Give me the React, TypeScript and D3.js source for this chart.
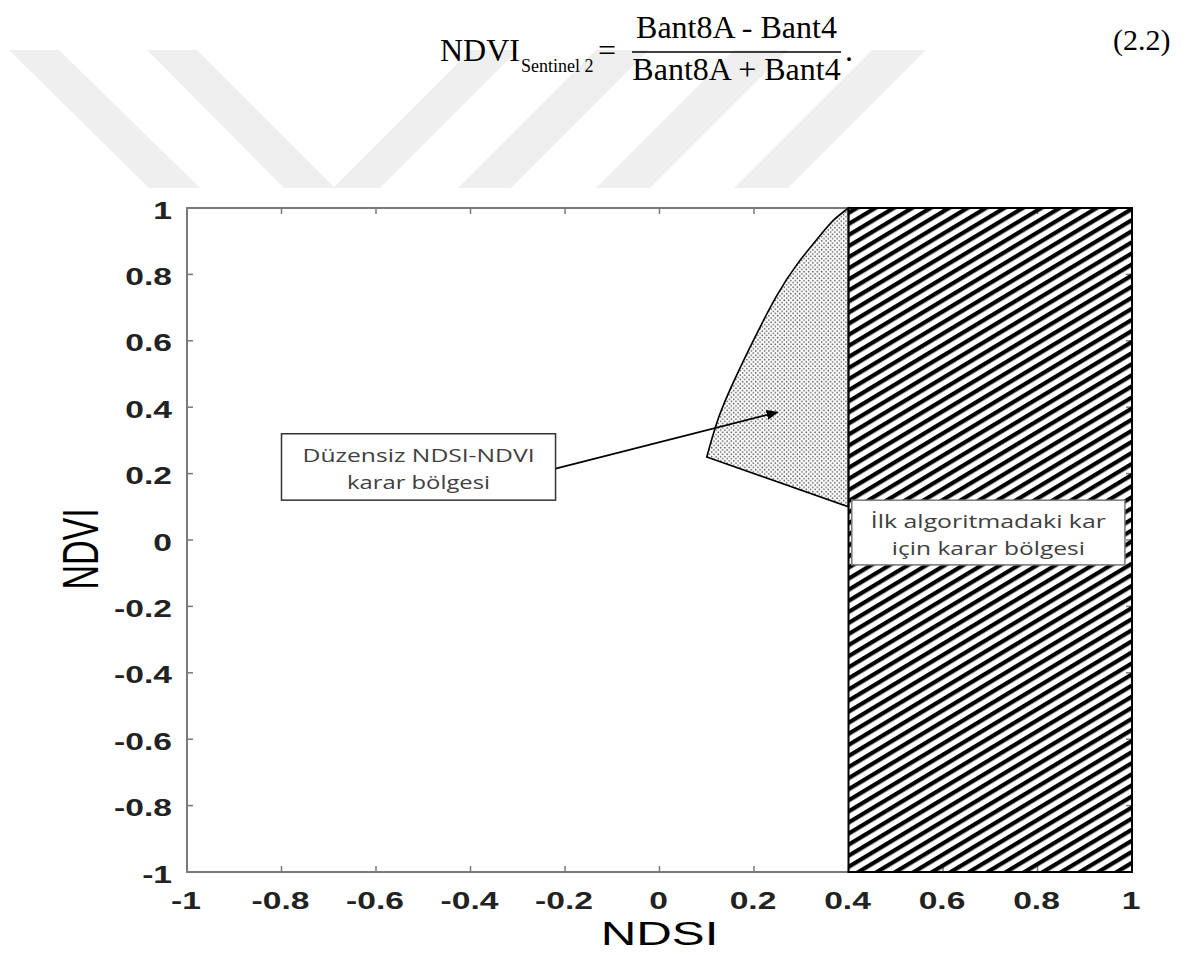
import * as d3 from 'd3';

// axis ticks
const xTicks = [-1, -0.8, -0.6, -0.4, -0.2, 0, 0.2, 0.4, 0.6, 0.8, 1];
const yTicks = [-1, -0.8, -0.6, -0.4, -0.2, 0, 0.2, 0.4, 0.6, 0.8, 1];

// irregular NDSI-NDVI region, curved upper edge
const curveNDSI = [0.1, 0.121, 0.149, 0.192, 0.247, 0.293, 0.338, 0.369, 0.4];
const curveNDVI = [0.25, 0.352, 0.452, 0.582, 0.733, 0.834, 0.914, 0.964, 1.0];
// straight lower edge
const lowerNDSI = [0.4, 0.1];
const lowerNDVI = [0.1, 0.25];

// first algorithm snow region
const snowNDSI = [0.4, 1];
const snowNDVI = [-1, 1];

// annotation boxes
const box1NDSI = [-0.8, -0.22];
const box1NDVI = [0.12, 0.32];
const box1Lines = ['Düzensiz NDSI-NDVI', 'karar bölgesi'];
const box1Widths = [232, 143];
const box2NDSI = [0.407, 0.985];
const box2NDVI = [-0.075, 0.12];
const box2Lines = ['İlk algoritmadaki kar', 'için karar bölgesi'];
const box2Widths = [235, 193];

// arrow from box 1 into the irregular region
const arrowNDSI = [-0.22, 0.25];
const arrowNDVI = [0.215, 0.385];

const W = 1189;
const H = 955;
const margin = { top: 208, right: 57, bottom: 83, left: 187 };

const fmt = (d: number) => (d === 0 ? '0' : String(d));

export default function App() {
  const x = d3.scaleLinear().domain([-1, 1]).range([margin.left, W - margin.right]);
  const y = d3.scaleLinear().domain([-1, 1]).range([H - margin.bottom, margin.top]);

  const curvePts: [number, number][] = curveNDSI.map((v, i) => [x(v), y(curveNDVI[i])]);
  const upper = d3.line().curve(d3.curveNatural)(curvePts) || '';
  const lowerPts = lowerNDSI.map((v, i) => `${x(v)},${y(lowerNDVI[i])}`).join(' L');
  const regionPath = `${upper} L${lowerPts} Z`;

  const tickLen = 6;
  const axisColor = '#7a7a7a';
  const sans = '"Liberation Sans", Arial, sans-serif';
  const serif = '"Liberation Serif", "Times New Roman", serif';
  const note = '"Open Sans", "Noto Sans", sans-serif';

  // background watermark bands (page decoration)
  const wm = [
    '9,50 59,50 200,188 149,188',
    '147,50 197,50 334,187 471,50 518,50 380,188 284,188',
    '458,188 511,188 649,50 596,50',
    '596,188 650,188 788,50 734,50',
    '734,188 788,188 926,50 872,50',
  ];

  return (
    <svg width={W} height={H} style={{ position: 'absolute', left: 0, top: 0, background: '#fff' }}>
      <defs>
        <pattern id="hatch" patternUnits="userSpaceOnUse" width={9.5} height={9.5} patternTransform="rotate(-31)">
          <rect x={0} y={0} width={9.5} height={4.2} fill="#000" />
        </pattern>
        <pattern id="dots" patternUnits="userSpaceOnUse" width={4.4} height={4.4}>
          <circle cx={1.1} cy={1.1} r={0.8} fill="#555" />
          <circle cx={3.3} cy={3.3} r={0.8} fill="#555" />
        </pattern>
        <marker id="arrow" viewBox="0 0 12 10" refX={11} refY={5} markerWidth={12} markerHeight={10} markerUnits="userSpaceOnUse" orient="auto">
          <path d="M0,0 L12,5 L0,10 Z" fill="#000" />
        </marker>
      </defs>

      {wm.map((p, i) => (
        <polygon key={i} points={p} fill="#efefef" />
      ))}

      {/* equation */}
      <g fontFamily={serif} fill="#000">
        <text x={440} y={61} fontSize={32}>NDVI</text>
        <text x={521} y={72} fontSize={18}>Sentinel 2</text>
        <text x={598} y={61} fontSize={32}>=</text>
        <text x={736.5} y={38} fontSize={32} textAnchor="middle">Bant8A - Bant4</text>
        <line x1={632} x2={841} y1={52} y2={52} stroke="#000" strokeWidth={1.5} />
        <text x={736.5} y={80} fontSize={32} textAnchor="middle">Bant8A + Bant4</text>
        <text x={845} y={61} fontSize={32}>.</text>
        <text x={1113} y={50} fontSize={30}>(2.2)</text>
      </g>

      {/* axes frame and ticks */}
      <rect x={x(-1)} y={y(1)} width={x(1) - x(-1)} height={y(-1) - y(1)} fill="none" stroke={axisColor} strokeWidth={2} />
      {xTicks.map((t) => (
        <g key={'xt' + t} stroke={axisColor} strokeWidth={1.5}>
          <line x1={x(t)} x2={x(t)} y1={y(-1)} y2={y(-1) - tickLen} />
          <line x1={x(t)} x2={x(t)} y1={y(1)} y2={y(1) + tickLen} />
        </g>
      ))}
      {yTicks.map((t) => (
        <g key={'yt' + t} stroke={axisColor} strokeWidth={1.5}>
          <line x1={x(-1)} x2={x(-1) + tickLen} y1={y(t)} y2={y(t)} />
          <line x1={x(1)} x2={x(1) - tickLen} y1={y(t)} y2={y(t)} />
        </g>
      ))}

      {/* irregular region */}
      <path d={regionPath} fill="url(#dots)" stroke="#000" strokeWidth={1.6} />

      {/* snow region */}
      <rect
        x={x(snowNDSI[0])}
        y={y(snowNDVI[1])}
        width={x(snowNDSI[1]) - x(snowNDSI[0])}
        height={y(snowNDVI[0]) - y(snowNDVI[1])}
        fill="url(#hatch)"
        stroke="#000"
        strokeWidth={2}
      />

      {/* arrow */}
      <line
        x1={x(arrowNDSI[0])}
        y1={y(arrowNDVI[0])}
        x2={x(arrowNDSI[1])}
        y2={y(arrowNDVI[1])}
        stroke="#000"
        strokeWidth={1.6}
        markerEnd="url(#arrow)"
      />

      {/* annotation boxes */}
      {[
        { nx: box1NDSI, ny: box1NDVI, lines: box1Lines, widths: box1Widths, stroke: '#333' },
        { nx: box2NDSI, ny: box2NDVI, lines: box2Lines, widths: box2Widths, stroke: '#777' },
      ].map((b, i) => {
        const bx = x(b.nx[0]);
        const by = y(b.ny[1]);
        const bw = x(b.nx[1]) - bx;
        const bh = y(b.ny[0]) - by;
        const cx = bx + bw / 2;
        return (
          <g key={'box' + i}>
            <rect x={bx} y={by} width={bw} height={bh} fill="#fff" stroke={b.stroke} strokeWidth={1.5} />
            {b.lines.map((l, j) => (
              <text
                key={j}
                x={cx}
                y={by + 28 + j * 27}
                textAnchor="middle"
                fontFamily={note}
                fontSize={18}
                fill="#404040"
                textLength={b.widths[j]}
                lengthAdjust="spacingAndGlyphs"
              >
                {l}
              </text>
            ))}
          </g>
        );
      })}

      {/* tick labels */}
      {yTicks.map((t) => (
        <text
          key={'yl' + t}
          transform={`translate(${x(-1) - 15},${y(t) + 10.5}) scale(1.4,1)`}
          textAnchor="end"
          fontFamily={sans}
          fontWeight="bold"
          fontSize={24}
          fill="#222"
        >
          {fmt(t)}
        </text>
      ))}
      {xTicks.map((t) => (
        <text
          key={'xl' + t}
          transform={`translate(${x(t) - 1},${y(-1) + 37}) scale(1.4,1)`}
          textAnchor="middle"
          fontFamily={sans}
          fontWeight="bold"
          fontSize={24}
          fill="#222"
        >
          {fmt(t)}
        </text>
      ))}

      {/* axis titles */}
      <text
        transform={`translate(${(x(-1) + x(1)) / 2},${H - 10}) scale(1.45,1)`}
        textAnchor="middle"
        fontFamily={sans}
        fontSize={34}
        fill="#000"
      >
        NDSI
      </text>
      <text
        transform={`translate(98,${549}) rotate(-90) scale(1,1.45)`}
        textAnchor="middle"
        fontFamily={sans}
        fontSize={34}
        fill="#000"
      >
        NDVI
      </text>
    </svg>
  );
}
